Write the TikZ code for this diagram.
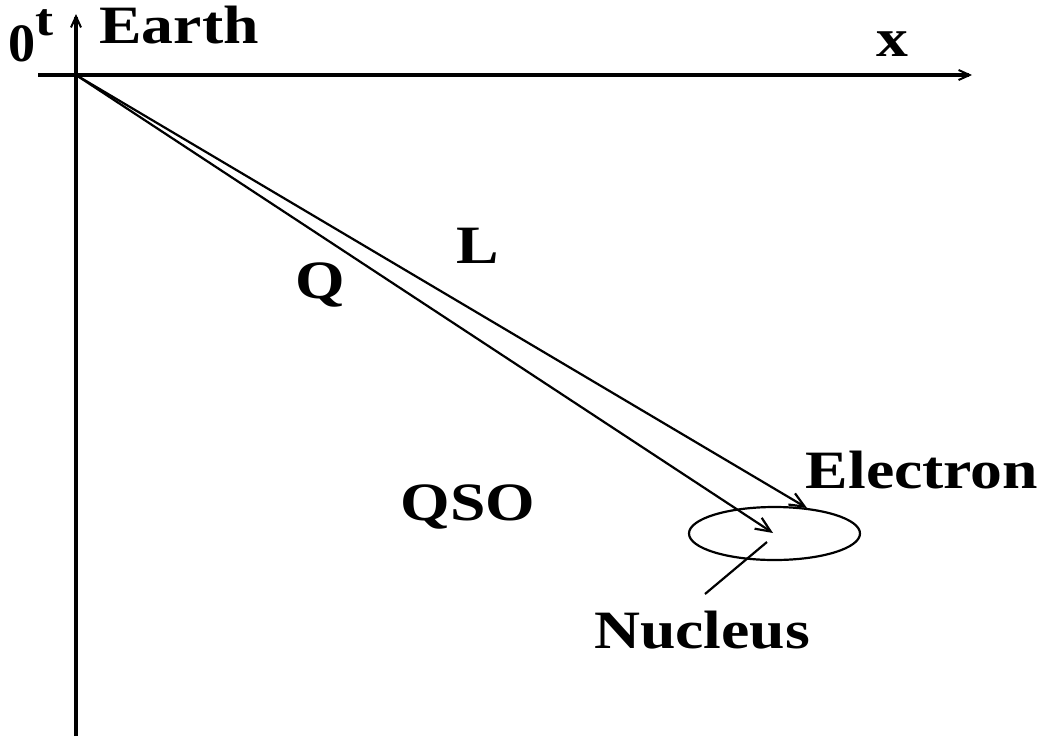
\documentclass[tikz,border=0pt]{standalone}
\usepackage{fontspec}
\setmainfont{Liberation Serif}
\usepackage{graphicx}
\usetikzlibrary{arrows.meta,shapes.geometric}
\newcommand\wlbl[1]{\scalebox{1.18}[1]{\bfseries #1}}
\tikzset{
  axis/.style={line width=3.4pt,-{Straight Barb[length=11pt,width=10pt,line width=2pt]}},
  vec/.style={line width=2.2pt,-{Straight Barb[length=15pt,width=13pt,line width=2.2pt]}},
  thin line/.style={line width=2.2pt},
  lbl/.style={inner sep=0pt,font=\fontsize{54}{54}\selectfont},
  slbl/.style={inner sep=0pt,font=\fontsize{46}{46}\selectfont},
}
\begin{document}
\begin{tikzpicture}[x=1pt,y=-1pt]
\useasboundingbox (0,0) rectangle (1045,740);
\coordinate (O) at (76,75);
\coordinate (tb) at (76,736);
\coordinate (tt) at (76,14);
\coordinate (xl) at (38,75);
\coordinate (xr) at (972,75);
\coordinate (Lend) at (807,508);
\coordinate (Qend) at (773,533);
\coordinate (nucpt) at (767,542);
\coordinate (nuclab) at (705,594);
\node[draw,thin line,ellipse,minimum width=171pt,minimum height=53pt,inner sep=0pt] (atom) at (774.5,533.5) {};
\draw[axis] (tb) -- (tt);
\draw[axis] (xl) -- (xr);
\draw[vec] (O) -- (Lend);
\draw[vec] (O) -- (Qend);
\draw[thin line] (nucpt) -- (nuclab);
\node[lbl,anchor=base] (zero) at (22,61) {\scalebox{0.85}[1]{\wlbl{0}}};
\node[slbl,anchor=base] (t) at (45,35) {\wlbl{t}};
\node[lbl,anchor=base] (earth) at (179,43) {\wlbl{Earth}};
\node[lbl,anchor=base] (x) at (892,56) {\wlbl{x}};
\node[lbl,anchor=base] (L) at (478,263) {\wlbl{L}};
\node[lbl,anchor=base] (Q) at (320,298) {\wlbl{Q}};
\node[lbl,anchor=base] (qso) at (468,520) {\wlbl{QSO}};
\node[lbl,anchor=base] (el) at (922,488) {\wlbl{Electron}};
\node[lbl,anchor=base] (nuc) at (702,648) {\wlbl{Nucleus}};
\end{tikzpicture}
\end{document}
